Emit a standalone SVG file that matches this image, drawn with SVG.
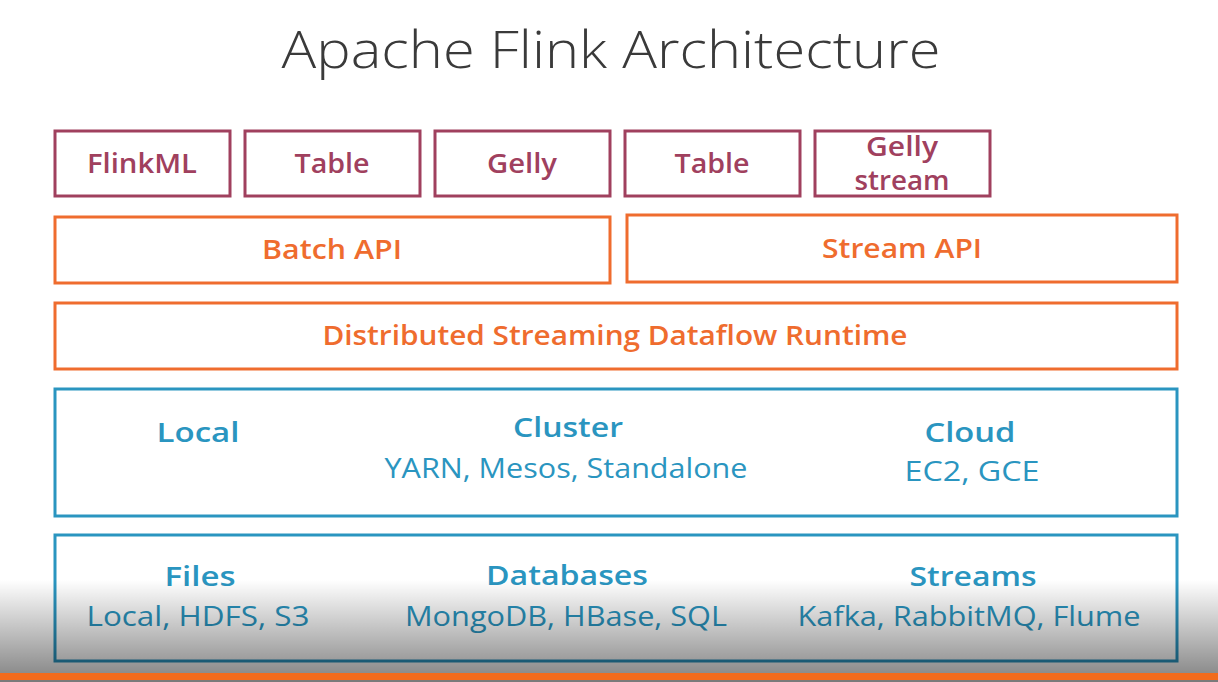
<svg xmlns="http://www.w3.org/2000/svg" width="1218" height="682" viewBox="0 0 1218 682">
<defs>
<style>
.t{font-family:"Open Sans","Liberation Sans",sans-serif;text-anchor:middle}
.lib rect{fill:none;stroke:#A0405E;stroke-width:3}
.lib text{fill:#A0405E;font-size:27px;font-weight:600}
.api rect{fill:none;stroke:#EF6C2E;stroke-width:3}
.api text{fill:#EF6C2E;font-size:27px;font-weight:600}
.dep rect{fill:none;stroke:#2A95C0;stroke-width:3}
.dep text{fill:#2A95C0;font-size:27px}
.h{font-weight:600}
.s{font-weight:400}
</style>
<linearGradient id="shade" x1="0" y1="0" x2="0" y2="1">
<stop offset="0" stop-color="#000" stop-opacity="0"/>
<stop offset="1" stop-color="#000" stop-opacity="0.45"/>
</linearGradient>
</defs>
<rect width="1218" height="682" fill="#fff"/>
<text id="title" class="t" x="611" y="68" font-size="51" font-weight="300" fill="#3a3a3a" textLength="659" lengthAdjust="spacingAndGlyphs">Apache Flink Architecture</text>

<g id="flinkml" class="lib"><rect x="55" y="131" width="175" height="65"/><text class="t" x="142" y="173" textLength="110" lengthAdjust="spacingAndGlyphs">FlinkML</text></g>
<g id="table-batch" class="lib"><rect x="245" y="131" width="175" height="65"/><text class="t" x="332" y="173" textLength="75" lengthAdjust="spacingAndGlyphs">Table</text></g>
<g id="gelly" class="lib"><rect x="435" y="131" width="175" height="65"/><text class="t" x="522" y="173" textLength="70" lengthAdjust="spacingAndGlyphs">Gelly</text></g>
<g id="table-stream" class="lib"><rect x="625" y="131" width="175" height="65"/><text class="t" x="712" y="173" textLength="75" lengthAdjust="spacingAndGlyphs">Table</text></g>
<g id="gelly-stream" class="lib"><rect x="815" y="131" width="175" height="65"/><text class="t" x="902" y="156" textLength="72" lengthAdjust="spacingAndGlyphs">Gelly</text><text class="t" x="902" y="190" textLength="95" lengthAdjust="spacingAndGlyphs">stream</text></g>

<g id="batch-api" class="api"><rect x="55" y="217" width="555" height="66"/><text class="t" x="332" y="259" textLength="140" lengthAdjust="spacingAndGlyphs">Batch API</text></g>
<g id="stream-api" class="api"><rect x="627" y="215" width="550" height="67"/><text class="t" x="902" y="258" textLength="160" lengthAdjust="spacingAndGlyphs">Stream API</text></g>
<g id="runtime" class="api"><rect x="55" y="303" width="1122" height="66"/><text class="t" x="615" y="345" textLength="585" lengthAdjust="spacingAndGlyphs">Distributed Streaming Dataflow Runtime</text></g>

<g id="deployment" class="dep"><rect x="55" y="389" width="1122" height="127"/>
<text class="t h" x="198" y="442" textLength="83" lengthAdjust="spacingAndGlyphs">Local</text>
<text class="t h" x="568" y="437" textLength="110" lengthAdjust="spacingAndGlyphs">Cluster</text>
<text class="t s" x="566" y="478" textLength="363" lengthAdjust="spacingAndGlyphs">YARN, Mesos, Standalone</text>
<text class="t h" x="970" y="442" textLength="91" lengthAdjust="spacingAndGlyphs">Cloud</text>
<text class="t s" x="972" y="481" textLength="135" lengthAdjust="spacingAndGlyphs">EC2, GCE</text>
</g>

<g id="storage" class="dep"><rect x="55" y="535" width="1122" height="126"/>
<text class="t h" x="200" y="586" textLength="71" lengthAdjust="spacingAndGlyphs">Files</text>
<text class="t s" x="198" y="626" textLength="223" lengthAdjust="spacingAndGlyphs">Local, HDFS, S3</text>
<text class="t h" x="567" y="585" textLength="162" lengthAdjust="spacingAndGlyphs">Databases</text>
<text class="t s" x="566" y="626" textLength="322" lengthAdjust="spacingAndGlyphs">MongoDB, HBase, SQL</text>
<text class="t h" x="973" y="586" textLength="127" lengthAdjust="spacingAndGlyphs">Streams</text>
<text class="t s" x="969" y="626" textLength="343" lengthAdjust="spacingAndGlyphs">Kafka, RabbitMQ, Flume</text>
</g>

<g id="connectors"></g>

<rect x="0" y="580" width="1218" height="93" fill="url(#shade)"/>
<rect x="0" y="673" width="1218" height="7" fill="#F26B1D"/>
<rect x="0" y="680" width="1218" height="2" fill="#7a7a7a"/>
</svg>
